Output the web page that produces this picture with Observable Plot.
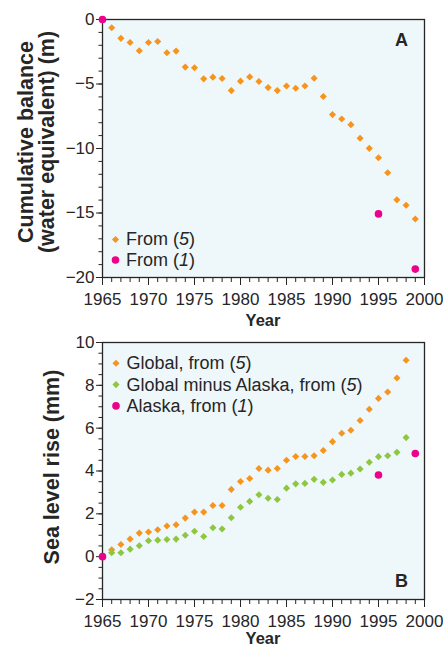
<!DOCTYPE html>
<html><head><meta charset="utf-8">
<script src="https://cdn.jsdelivr.net/npm/d3@7"></script>
<script src="https://cdn.jsdelivr.net/npm/@observablehq/plot@0.6"></script>
<style>
html,body{margin:0;padding:0;background:#fff;}
#chart{width:443px;height:646px;position:relative;overflow:hidden;}
#chart svg{display:block;}
</style></head><body><div id="chart"></div>
<script>
// ---------- Panel A: cumulative balance (m w.e.) ----------
const yearsA = [1966,1967,1968,1969,1970,1971,1972,1973,1974,1975,1976,1977,1978,1979,1980,1981,1982,1983,1984,1985,1986,1987,1988,1989,1990,1991,1992,1993,1994,1995,1996,1997,1998,1999];
const balanceA = [-0.64,-1.46,-1.78,-2.42,-1.78,-1.70,-2.58,-2.45,-3.69,-3.74,-4.60,-4.47,-4.57,-5.51,-4.78,-4.45,-4.81,-5.28,-5.51,-5.15,-5.33,-5.15,-4.55,-5.97,-7.37,-7.71,-8.15,-9.21,-9.99,-10.72,-11.88,-13.98,-14.40,-15.46];
const pinkYearsA = [1965,1995,1999];
const pinkBalanceA = [0,-15.07,-19.35];

// ---------- Panel B: sea level rise (mm) ----------
const yearsB = [1966,1967,1968,1969,1970,1971,1972,1973,1974,1975,1976,1977,1978,1979,1980,1981,1982,1983,1984,1985,1986,1987,1988,1989,1990,1991,1992,1993,1994,1995,1996,1997,1998];
const globalB = [0.32,0.57,0.82,1.10,1.15,1.26,1.43,1.49,1.80,2.08,2.08,2.39,2.39,3.14,3.51,3.65,4.12,4.04,4.12,4.50,4.68,4.68,4.71,4.96,5.37,5.76,5.90,6.36,6.88,7.39,7.69,8.34,9.17];
const minusAlaskaB = [0.18,0.18,0.35,0.51,0.74,0.77,0.80,0.82,1.00,1.19,0.94,1.35,1.29,1.82,2.31,2.58,2.89,2.73,2.67,3.20,3.40,3.42,3.61,3.47,3.58,3.84,3.90,4.09,4.41,4.67,4.71,4.87,5.56];
const pinkYearsB = [1965,1995,1999];
const alaskaB = [0,3.81,4.82];

// ---------- Ticks & labels ----------
const majorYears = [1965,1970,1975,1980,1985,1990,1995,2000];
const minorYears = [1965,1966,1967,1968,1969,1970,1971,1972,1973,1974,1975,1976,1977,1978,1979,1980,1981,1982,1983,1984,1985,1986,1987,1988,1989,1990,1991,1992,1993,1994,1995,1996,1997,1998,1999,2000];
const majorA = [-20,-15,-10,-5,0];
const minorA = [-20,-19,-18,-17,-16,-15,-14,-13,-12,-11,-10,-9,-8,-7,-6,-5,-4,-3,-2,-1,0];
const majorB = [-2,0,2,4,6,8,10];
const minorB = [-2,-1.5,-1,-0.5,0,0.5,1,1.5,2,2.5,3,3.5,4,4.5,5,5.5,6,6.5,7,7.5,8,8.5,9,9.5,10];
const titleA = ["Cumulative balance", "(water equivalent) (m)"];
const titleB = "Sea level rise (mm)";
const xTitle = "Year";
const legendA = [
  {shape: "diamond", color: "orange", parts: [["From (",0],["5",1],[")",0]]},
  {shape: "circle", color: "pink", parts: [["From (",0],["1",1],[")",0]]}
];
const legendB = [
  {shape: "diamond", color: "orange", parts: [["Global, from (",0],["5",1],[")",0]]},
  {shape: "diamond", color: "green", parts: [["Global minus Alaska, from (",0],["5",1],[")",0]]},
  {shape: "circle", color: "pink", parts: [["Alaska, from (",0],["1",1],[")",0]]}
];

// ---------- Style ----------
const FONT = '"Liberation Sans", Arial, Helvetica, sans-serif';
const INK = "#262626";
const PANEL = "#eef7fa";
const COLORS = {orange: "#f7941d", green: "#8dc63f", pink: "#ec008c"};
const R_DIAMOND = 3.2, R_CIRCLE = 3.8;
const W = 443;

const dataA = yearsA.map((y, i) => ({year: y, value: balanceA[i]}));
const pinkA = pinkYearsA.map((y, i) => ({year: y, value: pinkBalanceA[i]}));
const globB = yearsB.map((y, i) => ({year: y, value: globalB[i]}));
const minB = yearsB.map((y, i) => ({year: y, value: minusAlaskaB[i]}));
const pinkB = pinkYearsB.map((y, i) => ({year: y, value: alaskaB[i]}));

function axes(yMinor, yMajor) {
  return [
    Plot.axisX({ticks: minorYears, tickSize: 5, fill: "none", label: null, stroke: INK}),
    Plot.axisX({ticks: majorYears, tickSize: 8, tickPadding: 7, tickFormat: d => String(d), label: null, stroke: INK, fill: INK}),
    Plot.axisY({ticks: yMinor, tickSize: 3.5, fill: "none", label: null, stroke: INK}),
    Plot.axisY({ticks: yMajor, tickSize: 6, tickPadding: 2, label: null, stroke: INK, fill: INK})
  ];
}

const mA = {left: 102, right: 19, top: 19, bottom: 53};
const HA = 330;
const plotA = Plot.plot({
  width: W, height: HA,
  marginLeft: mA.left, marginRight: mA.right, marginTop: mA.top, marginBottom: mA.bottom,
  style: {fontFamily: FONT, fontSize: "17px", color: INK, background: "transparent", overflow: "visible"},
  x: {domain: [1965, 2000]},
  y: {domain: [-20, 0]},
  marks: [
    Plot.frame({fill: PANEL, stroke: "none"}),
    ...axes(minorA, majorA),
    Plot.frame({stroke: INK, strokeWidth: 1.3}),
    Plot.dot(dataA, {x: "year", y: "value", symbol: "diamond2", r: R_DIAMOND, fill: COLORS.orange, stroke: "none"}),
    Plot.dot(pinkA, {x: "year", y: "value", r: R_CIRCLE, fill: COLORS.pink, stroke: "none"})
  ]
});

const mB = {left: 102, right: 19, top: 12, bottom: 47};
const HB = 316;
const plotB = Plot.plot({
  width: W, height: HB,
  marginLeft: mB.left, marginRight: mB.right, marginTop: mB.top, marginBottom: mB.bottom,
  style: {fontFamily: FONT, fontSize: "17px", color: INK, background: "transparent", overflow: "visible"},
  x: {domain: [1965, 2000]},
  y: {domain: [-2, 10]},
  marks: [
    Plot.frame({fill: PANEL, stroke: "none"}),
    ...axes(minorB, majorB),
    Plot.frame({stroke: INK, strokeWidth: 1.3}),
    Plot.dot(globB, {x: "year", y: "value", symbol: "diamond2", r: R_DIAMOND, fill: COLORS.orange, stroke: "none"}),
    Plot.dot(minB, {x: "year", y: "value", symbol: "diamond2", r: R_DIAMOND, fill: COLORS.green, stroke: "none"}),
    Plot.dot(pinkB, {x: "year", y: "value", r: R_CIRCLE, fill: COLORS.pink, stroke: "none"})
  ]
});

const root = document.getElementById("chart");
root.appendChild(plotA);
root.appendChild(plotB);

function addLegend(svg, items, x0, y0, step) {
  const g = d3.select(svg).append("g")
    .attr("font-family", FONT).attr("font-size", 18).attr("fill", INK).attr("text-anchor", "start");
  items.forEach((it, i) => {
    const y = y0 + i * step;
    const sym = it.shape === "diamond"
      ? d3.symbol(d3.symbolDiamond2, Math.PI * R_DIAMOND * R_DIAMOND)
      : d3.symbol(d3.symbolCircle, Math.PI * R_CIRCLE * R_CIRCLE);
    g.append("path").attr("d", sym()).attr("transform", `translate(${x0},${y})`).attr("fill", COLORS[it.color]);
    const t = g.append("text").attr("x", x0 + 10.5).attr("y", y).attr("dy", "0.33em").attr("text-anchor", "start");
    it.parts.forEach(([s, ital]) => t.append("tspan").attr("font-style", ital ? "italic" : null).text(s));
  });
}

function addPanelLetter(svg, letter, x, y) {
  d3.select(svg).append("text").attr("x", x).attr("y", y).attr("dy", "0.36em")
    .attr("text-anchor", "middle").attr("font-family", FONT).attr("font-weight", "bold")
    .attr("font-size", 18).attr("fill", INK).text(letter);
}

function addYTitle(svg, lines, cy, baselines, size) {
  const g = d3.select(svg).append("g").attr("font-family", FONT).attr("font-weight", "bold")
    .attr("font-size", size).attr("fill", INK).attr("text-anchor", "middle");
  lines.forEach((s, i) => {
    g.append("text").attr("transform", `translate(${baselines[i]},${cy}) rotate(-90)`).text(s);
  });
}

function addXTitle(svg, cx, baseline) {
  d3.select(svg).append("text").attr("x", cx).attr("y", baseline)
    .attr("text-anchor", "middle").attr("font-family", FONT).attr("font-weight", "bold")
    .attr("font-size", 16.5).attr("fill", INK).text(xTitle);
}

const cxA = mA.left + (W - mA.left - mA.right) / 2;
// Panel A decorations
addLegend(plotA, legendA, mA.left + 13.5, HA - mA.bottom - 37.5, 20.5);
addPanelLetter(plotA, "A", W - mA.right - 22.5, mA.top + 21);
addYTitle(plotA, titleA, 142, [33, 54], 21.5);
addXTitle(plotA, cxA, 326);

// Panel B decorations
addLegend(plotB, legendB, mB.left + 14, mB.top + 21.3, 21.3);
addPanelLetter(plotB, "B", W - mB.right - 22.5, HB - mB.bottom - 18);
addYTitle(plotB, [titleB], 137, [59], 21.5);
addXTitle(plotB, cxA, 314);
</script>
</body></html>
